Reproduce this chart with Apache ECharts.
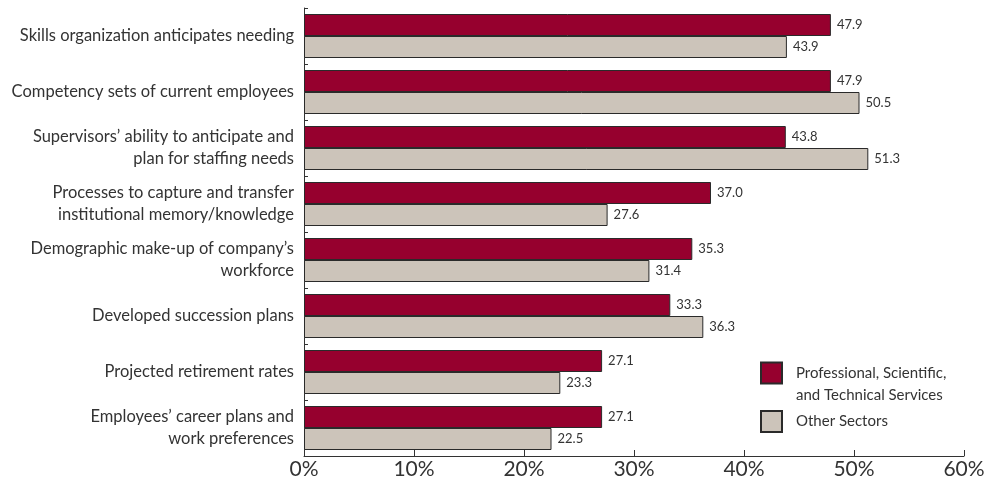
<!DOCTYPE html>
<html>
<head>
<meta charset="utf-8">
<script src="https://cdn.jsdelivr.net/npm/echarts@6/dist/echarts.min.js"></script>
<style>
html,body{margin:0;padding:0;background:#fff;}
#chart{width:1003px;height:483px;}
</style>
</head>
<body>
<div id="chart"></div>
<script>
const categories = [
  "Skills organization anticipates needing",
  "Competency sets of current employees",
  "Supervisors’ ability to anticipate and\nplan for staffing needs",
  "Processes to capture and transfer\ninstitutional memory/knowledge",
  "Demographic make-up of company’s\nworkforce",
  "Developed succession plans",
  "Projected retirement rates",
  "Employees’ career plans and\nwork preferences"
];
const seriesNames = ["Professional, Scientific, and Technical Services", "Other Sectors"];
const legendLines = ["Professional, Scientific,", "and Technical Services"];
const professional = [47.9, 47.9, 43.8, 37.0, 35.3, 33.3, 27.1, 27.1];
const otherSectors = [43.9, 50.5, 51.3, 27.6, 31.4, 36.3, 23.3, 22.5];
const xTicks = [0, 10, 20, 30, 40, 50, 60];

const FONT = "Lato";
const TXT = "#333";
const chart = echarts.init(document.getElementById('chart'), null, {renderer: 'canvas'});

const labelCfg = {
  show: true, position: 'right', distance: 6,
  color: TXT, fontSize: 13, fontFamily: FONT,
  formatter: p => p.value.toFixed(1)
};

chart.setOption({
  animation: false,
  backgroundColor: '#fff',
  grid: {left: 304, width: 660, top: 8, height: 448, containLabel: false},
  xAxis: {
    type: 'value', min: xTicks[0], max: xTicks[xTicks.length - 1], interval: 10,
    axisLine: {show: true, lineStyle: {color: TXT, width: 1}},
    axisTick: {show: true, inside: true, length: 6, lineStyle: {color: TXT}},
    splitLine: {show: false},
    axisLabel: {color: TXT, fontSize: 21, fontFamily: FONT, margin: 3, formatter: v => v + '%'}
  },
  yAxis: {
    type: 'category', data: categories, inverse: true,
    axisLine: {show: true, lineStyle: {color: TXT, width: 1}},
    axisTick: {show: true, inside: true, length: 4, lineStyle: {color: TXT}},
    axisLabel: {color: TXT, fontSize: 16.5, fontFamily: FONT, margin: 10, lineHeight: 22, align: 'right'}
  },
  legend: [
    {
      data: [seriesNames[0]], orient: 'vertical', left: 755, top: 341,
      itemWidth: 21, itemHeight: 21, icon: 'rect', selectedMode: false,
      formatter: () => '{s| }\n{a|' + legendLines[0] + '}\n{a|' + legendLines[1] + '}',
      textStyle: {
        color: TXT, fontSize: 15, fontFamily: FONT, padding: [0, 0, 0, 9],
        rich: {
          s: {fontSize: 10, lineHeight: 22, fontFamily: FONT},
          a: {fontSize: 15, lineHeight: 22, color: TXT, fontFamily: FONT}
        }
      }
    },
    {
      data: [seriesNames[1]], orient: 'vertical', left: 755, top: 405,
      itemWidth: 21, itemHeight: 21, icon: 'rect', selectedMode: false,
      textStyle: {color: TXT, fontSize: 15, fontFamily: FONT, padding: [0, 0, 0, 9]}
    }
  ],
  series: [
    {
      name: seriesNames[0], type: 'bar', data: professional,
      barWidth: 22, barGap: '0%', barCategoryGap: '21%',
      itemStyle: {color: '#96002E', borderColor: '#2a2a2a', borderWidth: 1},
      label: labelCfg
    },
    {
      name: seriesNames[1], type: 'bar', data: otherSectors,
      barWidth: 22,
      itemStyle: {color: '#CCC4BA', borderColor: '#2a2a2a', borderWidth: 1},
      label: labelCfg
    }
  ]
});
</script>
</body>
</html>
